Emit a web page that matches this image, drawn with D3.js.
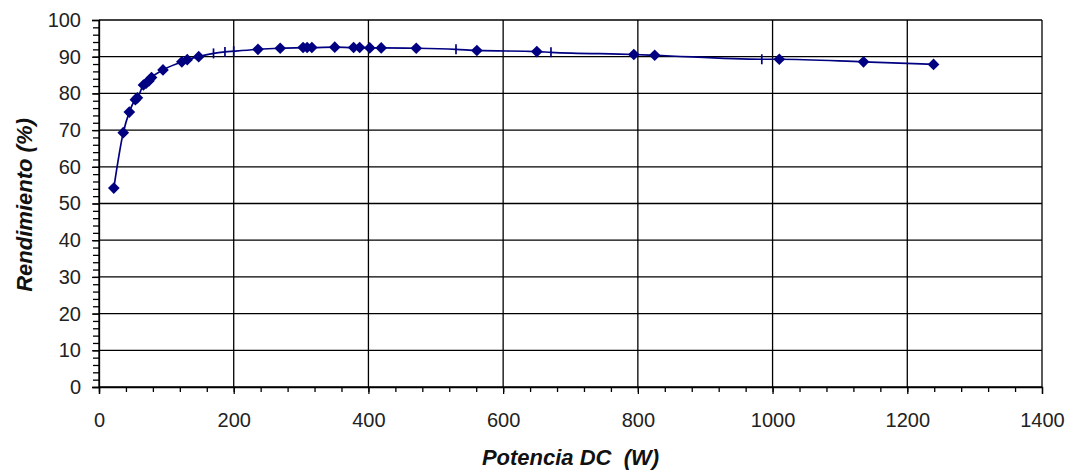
<!DOCTYPE html>
<html>
<head>
<meta charset="utf-8">
<script src="https://cdn.jsdelivr.net/npm/d3@7"></script>
<style>
  body { margin: 0; background: #fff; }
  text { font-family: "Liberation Sans", Arial, sans-serif; }
</style>
</head>
<body>
<div id="chart"></div>
<script>
var width = 1080;
var height = 470;

// rendimiento medido (diamantes)
var potencia = [22, 36, 45, 54, 57, 66, 70, 74, 78, 95, 123, 131, 148, 236, 269, 303, 309, 316, 350, 378, 387, 402, 419, 471, 561, 650, 794, 825, 1010, 1135, 1239];
var rendimiento = [54.2, 69.3, 74.9, 78.3, 78.8, 82.3, 82.8, 83.4, 84.3, 86.4, 88.6, 89.2, 90.0, 92.0, 92.3, 92.5, 92.5, 92.5, 92.6, 92.5, 92.5, 92.4, 92.4, 92.3, 91.7, 91.4, 90.6, 90.4, 89.3, 88.6, 87.9];

// puntos marcados con guion vertical
var potenciaB = [170, 187, 200, 530, 671, 984];
var rendimientoB = [90.9, 91.3, 91.5, 92.0, 91.2, 89.3];

var xTicks = [0, 200, 400, 600, 800, 1000, 1200, 1400];
var yTicks = [0, 10, 20, 30, 40, 50, 60, 70, 80, 90, 100];

var margin = { top: 20, right: 38, bottom: 83, left: 99 };

var svg = d3.select("#chart")
  .append("svg")
  .attr("width", width)
  .attr("height", height);

var x = d3.scaleLinear().domain([0, 1400]).range([margin.left, width - margin.right]);
var y = d3.scaleLinear().domain([0, 100]).range([height - margin.bottom, margin.top]);

// rejilla
svg.append("g")
  .selectAll("line.h")
  .data(yTicks)
  .enter()
  .append("line")
  .attr("x1", x(0))
  .attr("x2", x(1400))
  .attr("y1", d => y(d))
  .attr("y2", d => y(d))
  .attr("stroke", "#000")
  .attr("stroke-width", 1.3);

svg.append("g")
  .selectAll("line.v")
  .data(xTicks)
  .enter()
  .append("line")
  .attr("x1", d => x(d))
  .attr("x2", d => x(d))
  .attr("y1", y(0))
  .attr("y2", y(100))
  .attr("stroke", "#000")
  .attr("stroke-width", 1.3);

// ejes menores
svg.append("g")
  .attr("transform", "translate(" + x(0) + ",0)")
  .call(d3.axisLeft(y).tickValues(d3.range(0, 100, 2)).tickSize(6).tickFormat(""))
  .call(g => g.select(".domain").remove())
  .selectAll("line").attr("stroke-width", 1.3);

svg.append("g")
  .attr("transform", "translate(0," + y(0) + ")")
  .call(d3.axisBottom(x).tickValues(d3.range(0, 1400, 40)).tickSize(5).tickFormat(""))
  .call(g => g.select(".domain").remove())
  .selectAll("line").attr("stroke-width", 1.3);

// ejes mayores
var yAxis = svg.append("g")
  .attr("transform", "translate(" + x(0) + ",0)")
  .call(d3.axisLeft(y).tickValues(yTicks).tickSize(7).tickPadding(11).tickFormat(d3.format("d")));
yAxis.select(".domain").attr("stroke-width", 1.3);
yAxis.selectAll("line").attr("stroke-width", 1.3);
yAxis.selectAll("text").attr("font-size", 20).attr("fill", "#222")
  .style("font-family", "'Liberation Sans', Arial, sans-serif");

var xAxis = svg.append("g")
  .attr("transform", "translate(0," + y(0) + ")")
  .call(d3.axisBottom(x).tickValues(xTicks).tickSize(7).tickPadding(19).tickFormat(d3.format("d")));
xAxis.select(".domain").attr("stroke-width", 1.3);
xAxis.selectAll("line").attr("stroke-width", 1.3);
xAxis.selectAll("text").attr("font-size", 20).attr("fill", "#222")
  .style("font-family", "'Liberation Sans', Arial, sans-serif");

// curva
var puntos = potencia.map((p, i) => [p, rendimiento[i]])
  .concat(potenciaB.map((p, i) => [p, rendimientoB[i]]))
  .sort((a, b) => a[0] - b[0]);

var line = d3.line()
  .x(d => x(d[0]))
  .y(d => y(d[1]))
  .curve(d3.curveMonotoneX);

svg.append("path")
  .datum(puntos)
  .attr("d", line)
  .attr("fill", "none")
  .attr("stroke", "#000080")
  .attr("stroke-width", 1.7);

svg.append("g")
  .selectAll("path.diamond")
  .data(potencia)
  .enter()
  .append("path")
  .attr("d", d3.symbol().type(d3.symbolSquare).size(68))
  .attr("transform", (d, i) => "translate(" + x(d) + "," + y(rendimiento[i]) + ") rotate(45)")
  .attr("fill", "#000080");

svg.append("g")
  .selectAll("line.dash")
  .data(potenciaB)
  .enter()
  .append("line")
  .attr("x1", d => x(d))
  .attr("x2", d => x(d))
  .attr("y1", (d, i) => y(rendimientoB[i]) - 5)
  .attr("y2", (d, i) => y(rendimientoB[i]) + 5)
  .attr("stroke", "#000080")
  .attr("stroke-width", 1.7);

// titulos
svg.append("text")
  .text("Potencia DC  (W)")
  .attr("x", (x(0) + x(1400)) / 2)
  .attr("y", 465)
  .attr("text-anchor", "middle")
  .attr("font-size", 22)
  .attr("font-weight", "bold")
  .attr("font-style", "italic")
  .attr("fill", "#111")
  .style("white-space", "pre");

svg.append("text")
  .text("Rendimiento (%)")
  .attr("transform", "translate(32," + 205 + ") rotate(-90)")
  .attr("text-anchor", "middle")
  .attr("font-size", 22)
  .attr("font-weight", "bold")
  .attr("font-style", "italic")
  .attr("fill", "#111");
</script>
</body>
</html>
